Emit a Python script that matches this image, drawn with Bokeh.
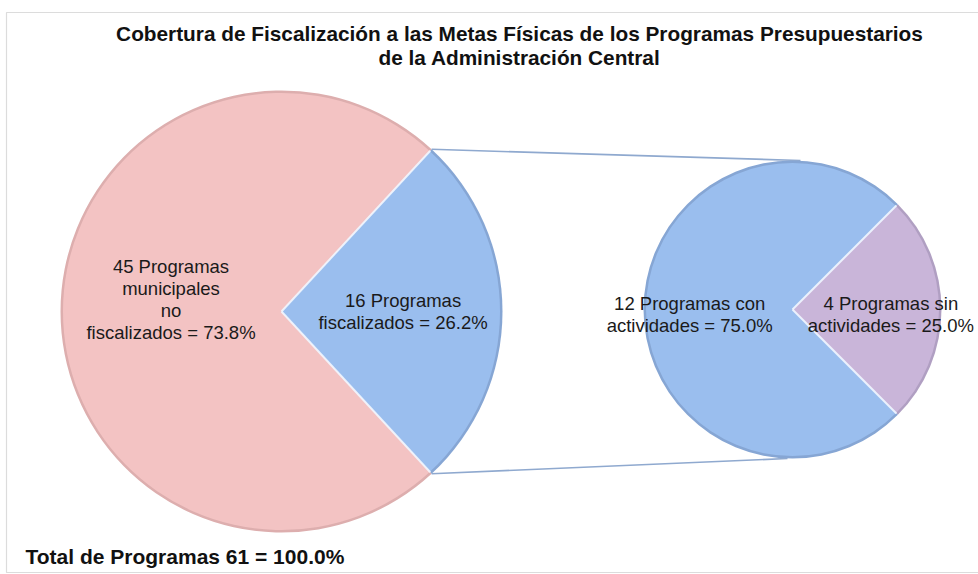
import math
from bokeh.plotting import figure
from bokeh.models import Range1d
from bokeh.core.properties import value
from bokeh.embed import file_html
from bokeh.resources import INLINE

# ---- data ----
title_lines = [
    "Cobertura de Fiscalización a las Metas Físicas de los Programas Presupuestarios",
    "de la Administración Central",
]
main_names = ["Programas\nfiscalizados", "Programas\nmunicipales\nno\nfiscalizados"]
main_values = [16, 45]
sub_names = ["Programas sin\nactividades", "Programas con\nactividades"]
sub_values = [4, 12]
total_label = "Total de Programas"

W, H = 978, 574
FONT = "Liberation Sans"


def Y(py):
    return H - py


p = figure(width=W, height=H, x_range=Range1d(0, W), y_range=Range1d(0, H),
           output_backend="svg", toolbar_location=None, min_border=0)
p.axis.visible = False
p.grid.visible = False
p.outline_line_color = None
p.background_fill_color = "white"
p.border_fill_color = "white"

# frame
p.quad(left=[6], right=[1000], top=[Y(12)], bottom=[Y(572)], fill_color=None,
       line_color="#DCDCDC", line_width=1.2)


def pie(cx, cy, r, values, base, rim):
    tot = sum(values)
    half = math.pi * values[0] / tot
    starts, ends = [], []
    a = -half
    for v in values:
        starts.append(a)
        a += 2 * math.pi * v / tot
        ends.append(a)
    n = len(values)
    p.wedge(x=[cx] * n, y=[cy] * n, radius=r, start_angle=starts, end_angle=ends,
            fill_color=rim, line_color=None)
    p.wedge(x=[cx] * n, y=[cy] * n, radius=r - 2.5, start_angle=starts, end_angle=ends,
            fill_color=base, line_color=None)
    # light bevel along the radial boundaries
    rr = r - 2
    p.segment(x0=[cx] * n, y0=[cy] * n,
              x1=[cx + rr * math.cos(s) for s in starts],
              y1=[cy + rr * math.sin(s) for s in starts],
              line_color="#F2F7FF", line_width=2, line_alpha=0.9)
    return starts, ends


# left pie
LCX, LCY, LR = 281, Y(311), 221
ls, le = pie(LCX, LCY, LR, main_values,
             ["#9ABEEE", "#F3C3C3"], ["#86A6D4", "#DDAEAE"])
# right pie
RCX, RCY, RR = 792, Y(309), 149
rs, re_ = pie(RCX, RCY, RR, sub_values,
              ["#C9B5D9", "#9ABEEE"], ["#B09FC2", "#86A6D4"])

# connector lines
a1 = le[0]
a0 = ls[0]
p.segment(x0=[LCX + LR * math.cos(a1), LCX + LR * math.cos(a0)],
          y0=[LCY + LR * math.sin(a1), LCY + LR * math.sin(a0)],
          x1=[RCX + 8, RCX - 5], y1=[RCY + RR, RCY - RR],
          line_color="#8FA9CF", line_width=1.6)

# labels
mtot = sum(main_values)
stot = sum(sub_values)


def lab(v, name, tot):
    parts = name.split("\n")
    pct = f"{100 * v / tot:.1f}%"
    txt = f"{v} " + "\n".join(parts[:-1]) + ("\n" if len(parts) > 1 else "") + f"{parts[-1]} = {pct}"
    return txt


labels, lx, ly = [], [], []
fr_main = [0.55, 0.5]
for i, (v, n) in enumerate(zip(main_values, main_names)):
    mid = (ls[i] + le[i]) / 2
    labels.append(lab(v, n, mtot))
    lx.append(LCX + fr_main[i] * LR * math.cos(mid))
    ly.append(LCY + fr_main[i] * LR * math.sin(mid) + (0 if i == 0 else 12))
fr_sub = [0.66, 0.69]
for i, (v, n) in enumerate(zip(sub_values, sub_names)):
    mid = (rs[i] + re_[i]) / 2
    labels.append(lab(v, n, stot))
    lx.append(RCX + fr_sub[i] * RR * math.cos(mid))
    ly.append(RCY + fr_sub[i] * RR * math.sin(mid) - 5)

p.text(x=lx, y=ly, text=labels, text_font=value(FONT), text_font_size="18.5px",
       text_color="#1a1a1a", text_align="center", text_baseline="middle",
       text_line_height=1.05)

# title
p.text(x=[519, 519], y=[Y(33), Y(57)], text=title_lines, text_font=value(FONT),
       text_font_size="20.8px", text_font_style="bold", text_color="#111111",
       text_align="center", text_baseline="middle")

# total
p.text(x=[25], y=[Y(556)], text=[f"{total_label} {mtot} = {100 * mtot / mtot:.1f}%"],
       text_font=value(FONT), text_font_size="21px", text_font_style="bold",
       text_color="#111111", text_align="left", text_baseline="middle")

open("out.html", "w").write(file_html(p, INLINE))
